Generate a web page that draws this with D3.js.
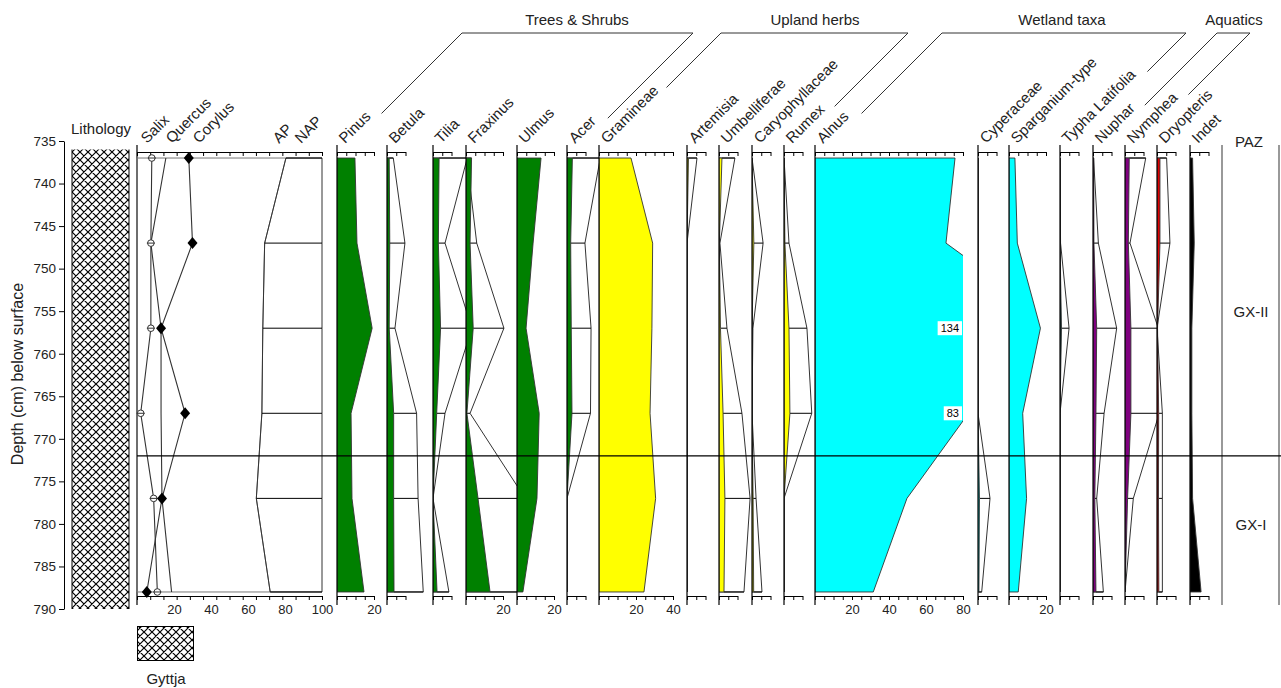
<!DOCTYPE html>
<html>
<head>
<meta charset="utf-8">
<script src="https://cdn.jsdelivr.net/npm/d3@7"></script>
<style>
  body { margin: 0; background: #fff; }
  svg { display: block; font-family: "Liberation Sans", Arial, sans-serif; }
</style>
</head>
<body>
<svg id="chart" width="1281" height="688"></svg>
<script>
(function () {
  'use strict';

  // ---- Data (percent of pollen sum) ----
  const DEPTHS = [737, 747, 757, 767, 777, 788];
  const DEPTH_TICKS = [735, 740, 745, 750, 755, 760, 765, 770, 775, 780, 785, 790];
  const LITHO_TOP = 736;
  const ZONE_LINE = 772;
  const ZONES = ['GX-II', 'GX-I'];

  // first panel: line curves + AP/NAP
  const SALIX   = [8, 7.5, 7.5, 2, 9, 11];
  const QUERCUS = [15.6, 7.5, 13, 13, 13.5, 18.7];
  const CORYLUS = [28, 30, 13, 26, 13.5, 5.3];
  const AP      = [80.5, 69, 68, 67.5, 64.5, 72];

  // silhouettes (_X = exaggerated outline)
  const PINUS = [9.7, 10.8, 19, 7.6, 8.1, 14.6];
  const BETULA = [1.2, 1.5, 1.2, 3.6, 3.6, 3.8];
  const BETULA_X = [3.4, 9.7, 4.3, 16, 16.8, 19.6];
  const TILIA = [3.3, 2.9, 4.1, 2.0, 0, 2.2];
  const TILIA_X = [18.5, 6.5, 21, 6.5, 0, 8.6];
  const FRAXINUS = [3.0, 2.2, 3.9, 0.5, 6.5, 13];
  const FRAXINUS_X = [0.4, 5.8, 20.5, 2.2, 32, 65];
  const ULMUS = [13, 8.7, 4.9, 12, 10.8, 3.2];
  const ACER = [2.9, 2.0, 2.3, 2.7, 0, 0];
  const ACER_X = [18, 9.7, 13, 12.7, 0, 0];
  const GRAMINEAE = [17.3, 29, 28.6, 27.6, 30.6, 24.3];
  const ARTEMISIA = [0.8, 0, 0, 0, 0, 0];
  const ARTEMISIA_X = [5.4, 0, 0, 0, 0, 0];
  const UMBELLIFERAE = [1.6, 0.2, 0.8, 2.2, 3.2, 2.7];
  const UMBELLIFERAE_X = [8.6, 0.5, 4.3, 12.4, 16.8, 13.5];
  const CARYOPHYLLACEAE = [0, 1, 0, 0, 0.6, 0.9];
  const CARYOPHYLLACEAE_X = [0, 6, 0.5, 0, 2.2, 5.4];
  const RUMEX = [0, 0.5, 2.7, 3.2, 0, 0];
  const RUMEX_X = [0, 2.7, 12.4, 15, 0, 0];
  const ALNUS = [75.7, 70.8, 134, 83, 49.7, 31.5];
  const CYPERACEAE = [0, 0, 0, 0, 0.8, 0.5];
  const CYPERACEAE_X = [0, 0, 0, 0, 6.5, 2];
  const SPARGANIUM = [3.2, 4.5, 17, 7.4, 9.5, 5];
  const TYPHA = [0, 0, 0.8, 0, 0, 0];
  const TYPHA_X = [0, 0.3, 4.9, 0, 0, 0];
  const NUPHAR = [0.4, 0.5, 2, 1.6, 1, 1.6];
  const NUPHAR_X = [0.3, 2.9, 12.8, 6, 2, 5.6];
  const NYMPHEA = [2.3, 1.8, 3.2, 3.2, 1.4, 0];
  const NYMPHEA_X = [11.2, 2.7, 18, 18.5, 4.5, 0];
  const DRYOPTERIS = [1.6, 1.6, 0.3, 0.9, 0.8, 1];
  const DRYOPTERIS_X = [5.2, 7, 0, 2.9, 2.9, 2.9];
  const INDET = [1.4, 2.3, 1.0, 1.0, 1.4, 6];

  // bottom tick labels
  const TL_20 = [20];
  const TL_40 = [20, 40];
  const TL_80 = [20, 40, 60, 80];
  const TL_100 = [20, 40, 60, 80, 100];

  // ---- Layout ----
  const K = 1.85;             // px per percent, shared by all panels
  const RULER_TOP = 152, RULER_BOT = 596;
  const AXIS_TOP = 145, AXIS_BOT = 605;
  const LABEL_Y = 144, LABEL_DX = 8;
  const FONT = 15;

  const GREEN = '#008000', YELLOW = '#ffff00', CYAN = '#00ffff',
        PURPLE = '#800080', RED = '#e00000', TEAL = '#0b4d4d', BLACK = '#000';

  const PANELS = [
    { name: 'Pinus',           v: PINUS,           x: 337,  max: 20, color: GREEN,  tl: TL_20 },
    { name: 'Betula',          v: BETULA,          x: 387,  max: 10, color: GREEN,  ex: BETULA_X },
    { name: 'Tilia',           v: TILIA,           x: 433,  max: 10, color: GREEN,  ex: TILIA_X },
    { name: 'Fraxinus',        v: FRAXINUS,        x: 466,  max: 20, color: GREEN,  ex: FRAXINUS_X, tl: TL_20 },
    { name: 'Ulmus',           v: ULMUS,           x: 517,  max: 20, color: GREEN,  tl: TL_20 },
    { name: 'Acer',            v: ACER,            x: 567,  max: 10, color: GREEN,  ex: ACER_X },
    { name: 'Gramineae',       v: GRAMINEAE,       x: 599,  max: 40, color: YELLOW, tl: TL_40 },
    { name: 'Artemisia',       v: ARTEMISIA,       x: 687,  max: 10, color: YELLOW, ex: ARTEMISIA_X },
    { name: 'Umbelliferae',    v: UMBELLIFERAE,    x: 719,  max: 10, color: YELLOW, ex: UMBELLIFERAE_X },
    { name: 'Caryophyllaceae', v: CARYOPHYLLACEAE, x: 752,  max: 10, color: YELLOW, ex: CARYOPHYLLACEAE_X },
    { name: 'Rumex',           v: RUMEX,           x: 784,  max: 10, color: YELLOW, ex: RUMEX_X },
    { name: 'Alnus',           v: ALNUS,           x: 815,  max: 80, color: CYAN,   tl: TL_80, clipAtMax: true },
    { name: 'Cyperaceae',      v: CYPERACEAE,      x: 978,  max: 10, color: CYAN,   ex: CYPERACEAE_X },
    { name: 'Sparganium-type', v: SPARGANIUM,      x: 1009, max: 20, color: CYAN,   tl: TL_20 },
    { name: 'Typha Latifolia', v: TYPHA,           x: 1060, max: 10, color: TEAL,   ex: TYPHA_X },
    { name: 'Nuphar',          v: NUPHAR,          x: 1093, max: 10, color: PURPLE, ex: NUPHAR_X },
    { name: 'Nymphea',         v: NYMPHEA,         x: 1125, max: 10, color: PURPLE, ex: NYMPHEA_X },
    { name: 'Dryopteris',      v: DRYOPTERIS,      x: 1157, max: 10, color: RED,    ex: DRYOPTERIS_X },
    { name: 'Indet',           v: INDET,           x: 1190, max: 10, color: BLACK }
  ];
  const PAZ_LEFT = 1222, PAZ_RIGHT = 1279;

  const GROUPS = [
    { title: 'Trees & Shrubs', cx: 577,  left: 462,  right: 693,  first: 'Pinus',     last: 'Acer' },
    { title: 'Upland herbs',   cx: 815,  left: 721,  right: 908,  first: 'Gramineae', last: 'Rumex' },
    { title: 'Wetland taxa',   cx: 1062, left: 942,  right: 1186, first: 'Alnus',     last: 'Typha Latifolia' },
    { title: 'Aquatics',       cx: 1234, left: 1217, right: 1250, first: 'Nuphar',    last: 'Nymphea' }
  ];

  const svg = d3.select('#chart');
  const defs = svg.append('defs');
  const y = d3.scaleLinear().domain([735, 790]).range([141, 609]);

  // crosshatch for gyttja
  const pat = defs.append('pattern').attr('id', 'gyttja')
    .attr('patternUnits', 'userSpaceOnUse').attr('width', 8).attr('height', 8);
  pat.append('rect').attr('width', 8).attr('height', 8).attr('fill', '#fff');
  pat.append('path').attr('d', 'M0,0L8,8M8,0L0,8M-1,7L1,9M7,-1L9,1M-1,1L1,-1M7,9L9,7')
    .attr('stroke', '#000').attr('stroke-width', 1.2);

  // ---- Depth axis ----
  svg.append('g').attr('transform', 'translate(64,0)')
    .call(d3.axisLeft(y).tickValues(DEPTH_TICKS).tickSize(5).tickSizeOuter(0).tickPadding(3))
    .call(g => g.selectAll('text').style('font-size', '13.5px').attr('fill', '#222'))
    .call(g => g.selectAll('line,path').attr('stroke', '#000'));
  svg.append('text')
    .attr('transform', `translate(23,${374}) rotate(-90)`)
    .attr('text-anchor', 'middle').style('font-size', '16px').attr('fill', '#222')
    .text('Depth (cm) below surface');

  // ---- Lithology ----
  svg.append('rect').attr('x', 72).attr('y', y(LITHO_TOP)).attr('width', 57)
    .attr('height', y(790) - y(LITHO_TOP)).attr('fill', 'url(#gyttja)');
  [72, 129].forEach(xx => svg.append('line').attr('x1', xx).attr('x2', xx)
    .attr('y1', y(LITHO_TOP)).attr('y2', y(790)).attr('stroke', '#000'));
  svg.append('text').attr('x', 101).attr('y', 134).attr('text-anchor', 'middle')
    .style('font-size', FONT + 'px').attr('fill', '#222').text('Lithology');
  svg.append('rect').attr('x', 137.5).attr('y', 626.5).attr('width', 56).attr('height', 34)
    .attr('fill', 'url(#gyttja)').attr('stroke', '#000');
  svg.append('text').attr('x', 166).attr('y', 684).attr('text-anchor', 'middle')
    .style('font-size', FONT + 'px').attr('fill', '#222').text('Gyttja');

  function rulers(g, sc, max, step, labels) {
    const vals = d3.range(0, max + 0.001, step);
    const black = a => a.selectAll('line,path').attr('stroke', '#000');
    g.append('g').attr('transform', `translate(0,${RULER_TOP})`)
      .call(d3.axisBottom(sc).tickValues(vals).tickSize(4).tickSizeOuter(0).tickFormat(''))
      .call(black);
    g.append('g').attr('transform', `translate(0,${RULER_BOT})`)
      .call(d3.axisBottom(sc).tickValues(vals).tickSize(4).tickSizeOuter(0).tickFormat(''))
      .call(black);
    if (labels) {
      g.append('g').attr('transform', `translate(0,${RULER_BOT})`)
        .call(d3.axisBottom(sc).tickValues(labels).tickSize(0).tickPadding(9))
        .call(a => a.select('.domain').remove())
        .call(a => a.selectAll('text').style('font-size', '13px').attr('fill', '#222'));
    }
    g.append('line').attr('x1', sc(0)).attr('x2', sc(0))
      .attr('y1', AXIS_TOP).attr('y2', AXIS_BOT).attr('stroke', '#000').attr('stroke-width', 1.2);
  }

  function taxonLabel(name, ax, ay) {
    return svg.append('text')
      .attr('transform', `translate(${ax},${ay}) rotate(-45)`)
      .style('font-size', FONT + 'px').attr('fill', '#222').text(name);
  }

  // ---- First panel: Salix / Quercus / Corylus + AP/NAP ----
  const x1 = d3.scaleLinear().domain([0, 100]).range([137, 137 + 100 * K]);
  const p1 = svg.append('g');
  rulers(p1, x1, 100, 100 / 14, TL_100);
  const pts = arr => DEPTHS.map((d, i) => ({ d, v: arr[i] }));
  const apArea = d3.area().y(d => y(d.d)).x0(x1(0)).x1(d => x1(d.v));
  const napArea = d3.area().y(d => y(d.d)).x0(d => x1(d.v)).x1(x1(100));
  p1.append('path').datum(pts(AP)).attr('d', apArea).attr('fill', 'none').attr('stroke', '#777');
  p1.append('path').datum(pts(AP)).attr('d', napArea).attr('fill', 'none').attr('stroke', '#333');
  p1.selectAll('.nap').data(pts(AP)).enter().append('line')
    .attr('x1', d => x1(d.v)).attr('x2', x1(100)).attr('y1', d => y(d.d)).attr('y2', d => y(d.d))
    .attr('stroke', '#000');
  const ln = d3.line().x(d => x1(d.v)).y(d => y(d.d));
  [SALIX, QUERCUS, CORYLUS].forEach(s => p1.append('path').datum(pts(s)).attr('d', ln)
    .attr('fill', 'none').attr('stroke', '#333').attr('stroke-width', 1.1));
  p1.selectAll('.sal').data(pts(SALIX)).enter().append('g')
    .attr('transform', d => `translate(${x1(d.v)},${y(d.d)})`)
    .call(g => {
      g.append('circle').attr('r', 3.3).attr('fill', '#fff').attr('stroke', '#333');
      g.append('line').attr('x1', -4).attr('x2', 4).attr('stroke', '#333');
    });
  p1.selectAll('.cor').data(pts(CORYLUS)).enter().append('path')
    .attr('transform', d => `translate(${x1(d.v)},${y(d.d)})`)
    .attr('d', 'M0,-6L5,0L0,6L-5,0Z').attr('fill', '#000');
  [['Salix', 147], ['Quercus', 172], ['Corylus', 199], ['AP', 279], ['NAP', 301]]
    .forEach(([n, ax]) => taxonLabel(n, ax, LABEL_Y));

  // ---- Taxon panels ----
  const labelEnds = {};
  PANELS.forEach((p, i) => {
    const sc = d3.scaleLinear().domain([0, p.max]).range([p.x, p.x + p.max * K]);
    const next = i < PANELS.length - 1 ? PANELS[i + 1].x : PAZ_LEFT;
    const clipW = p.clipAtMax ? p.max * K : next - p.x;
    const cid = 'clip' + i;
    defs.append('clipPath').attr('id', cid).append('rect')
      .attr('x', p.x).attr('y', 0).attr('width', clipW).attr('height', 688);
    const g = svg.append('g');
    const body = g.append('g').attr('clip-path', `url(#${cid})`);
    const data = pts(p.v);
    const area = d3.area().y(d => y(d.d)).x0(sc(0)).x1(d => sc(d.v));
    if (p.ex) {
      const exd = pts(p.ex);
      body.append('path').datum(exd).attr('d', area).attr('fill', 'none')
        .attr('stroke', '#333').attr('stroke-width', 1);
      body.selectAll('.h').data(exd).enter().append('line')
        .attr('x1', (d, j) => sc(p.v[j])).attr('x2', d => sc(d.v))
        .attr('y1', d => y(d.d)).attr('y2', d => y(d.d))
        .attr('stroke', '#000');
    }
    body.append('path').datum(data).attr('d', area).attr('fill', p.color)
      .attr('stroke', '#333').attr('stroke-width', 0.9);
    rulers(g, sc, p.max, 5, p.tl);

    // off-scale values
    data.filter(d => d.v > p.max).forEach(d => {
      const lg = g.append('g');
      const box = lg.append('rect').attr('fill', '#fff');
      const t = lg.append('text').attr('x', sc(p.max) - 4).attr('y', y(d.d) + 4)
        .attr('text-anchor', 'end').style('font-size', '11px').attr('fill', '#000').text(d.v);
      const bb = t.node().getBBox();
      box.attr('x', bb.x - 3).attr('y', bb.y - 1)
        .attr('width', bb.width + 6).attr('height', bb.height + 2);
    });

    const lab = taxonLabel(p.name, p.x + LABEL_DX, LABEL_Y);
    const L = lab.node().getComputedTextLength();
    labelEnds[p.name] = { x: p.x + LABEL_DX + L * Math.SQRT1_2, y: LABEL_Y - L * Math.SQRT1_2 };
  });

  // ---- Group brackets ----
  const GY = 33;
  GROUPS.forEach(gr => {
    svg.append('text').attr('x', gr.cx).attr('y', 25).attr('text-anchor', 'middle')
      .style('font-size', FONT + 'px').attr('fill', '#222').text(gr.title);
    const e1 = labelEnds[gr.first], e2 = labelEnds[gr.last];
    const t1 = e1.y - 4 - GY, t2 = e2.y - 4 - GY;
    svg.append('path')
      .attr('d', `M${gr.left - t1},${GY + t1}L${gr.left},${GY}L${gr.right},${GY}L${gr.right - t2},${GY + t2}`)
      .attr('fill', 'none').attr('stroke', '#333').attr('stroke-width', 1);
  });

  // ---- Zones ----
  [PAZ_LEFT, PAZ_RIGHT].forEach(xx => svg.append('line').attr('x1', xx).attr('x2', xx)
    .attr('y1', AXIS_TOP).attr('y2', AXIS_BOT).attr('stroke', '#555').attr('stroke-width', 1.2));
  svg.append('text').attr('x', 1249).attr('y', 147).attr('text-anchor', 'middle')
    .style('font-size', FONT + 'px').attr('fill', '#222').text('PAZ');
  svg.append('text').attr('x', 1251).attr('y', 317).attr('text-anchor', 'middle')
    .style('font-size', FONT + 'px').attr('fill', '#222').text(ZONES[0]);
  svg.append('text').attr('x', 1251).attr('y', 530).attr('text-anchor', 'middle')
    .style('font-size', FONT + 'px').attr('fill', '#222').text(ZONES[1]);
  svg.append('line').attr('x1', 137).attr('x2', 1281)
    .attr('y1', y(ZONE_LINE)).attr('y2', y(ZONE_LINE)).attr('stroke', '#000').attr('stroke-width', 1.2);
})();
</script>
</body>
</html>
